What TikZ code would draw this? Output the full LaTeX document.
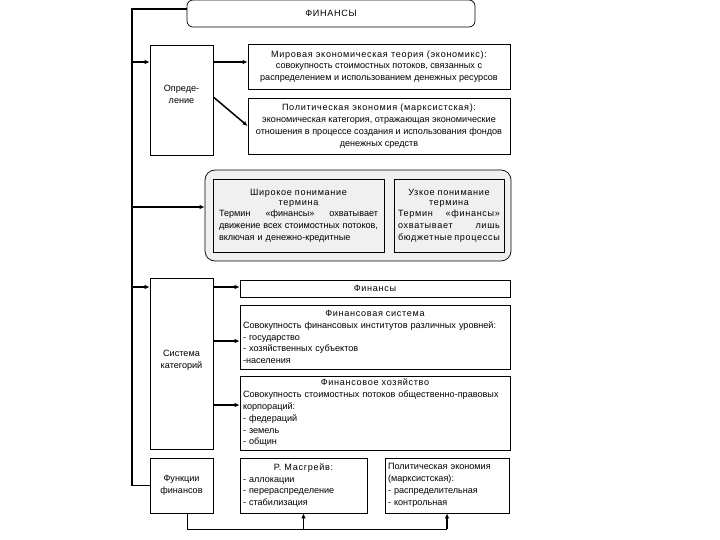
\documentclass[tikz,border=0pt]{standalone}
\usepackage{fontspec}
\setmainfont{Liberation Sans}
\newfontfamily\spfont[LetterSpace=7.5]{Liberation Sans}
\usetikzlibrary{arrows.meta}
\newcommand{\fsz}{\fontsize{9.1}{11.8}\selectfont}
\newcommand{\ttl}[1]{{\centering\spfont #1\par}}
\newcommand{\ttlt}[1]{{\centering\fontsize{9.1}{10.5}\selectfont\spfont #1\par}\vspace{-1pt}}
\newcommand{\jline}[2]{\leavevmode\hbox to #1{#2}\par}
\begin{document}
\begin{tikzpicture}[x=1pt,y=-1pt,
  box/.style={draw, line width=0.7pt, inner sep=0pt, font=\fsz, align=center},
  boxt/.style={draw, line width=0.7pt, inner ysep=0pt, inner xsep=3pt, font=\fsz, text width=#1},
  graybox/.style={fill=gray!12},
  arr/.style={line width=1.5pt, -{Latex[length=5pt,width=4.5pt]}},
  conn/.style={line width=1.5pt},
  thinline/.style={line width=0.7pt}]
\useasboundingbox (0,0) rectangle (720,540);

% top
\node[box, rounded corners=6pt, minimum width=288, minimum height=27, font=\fsz\spfont] (fin) at (331,13.5) {ФИНАНСЫ};

% definition block
\node[box, minimum width=63, minimum height=110] (def) at (181.5,100) {Опреде-\\ление\\[0pt]\mbox{}};
\node[box, minimum width=262, minimum height=45] (mir) at (379,66.5)
  {{\spfont Мировая экономическая теория (экономикс):}\\совокупность стоимостных потоков, связанных с\\распределением и использованием денежных ресурсов};
\node[box, minimum width=262, minimum height=56] (pol) at (379,126)
  {{\spfont Политическая экономия (марксистская):}\\экономическая категория, отражающая экономические\\отношения в процессе создания и использования фондов\\денежных средств};

% understanding block
\node[box, graybox, rounded corners=10pt, minimum width=306, minimum height=91] (und) at (358,215.5) {};
\node[boxt=159pt, graybox, inner xsep=6pt, minimum width=171, minimum height=73] (broad) at (298.5,215.5)
  {\ttlt{Широкое понимание\\термина}\raggedright
   \jline{159pt}{Термин\hfill«финансы»\hfill охватывает}%
   \jline{159pt}{движение\hfill всех\hfill стоимостных\hfill потоков,}%
   включая и денежно-кредитные};
\node[boxt=102pt, graybox, inner xsep=4pt, minimum width=110, minimum height=73] (narrow) at (449,215.5)
  {\ttlt{Узкое понимание\\термина}\raggedright\spfont
   \jline{102pt}{Термин\hfill«финансы»}%
   \jline{102pt}{охватывает\hfill лишь}%
   \jline{102pt}{бюджетные\hfill процессы}};

% categories block
\node[box, minimum width=63, minimum height=171] (sys) at (181.5,363.5) {Система\\категорий\\[-4pt]\mbox{}};
\node[box, minimum width=270, minimum height=17, font=\fsz\spfont] (fins) at (375,288.5) {Финансы};
\node[boxt=264pt, minimum width=270, minimum height=64] (fsys) at (375,337)
  {\ttl{Финансовая система}\raggedright Совокупность финансовых институтов различных уровней:\\- государство\\- хозяйственных субъектов\\-населения};
\node[boxt=264pt, minimum width=270, minimum height=74] (fhoz) at (375,413)
  {\ttl{Финансовое хозяйство}\raggedright Совокупность стоимостных потоков общественно-правовых корпораций:\\- федераций\\- земель\\- общин};

% functions block
\node[box, minimum width=63, minimum height=55] (func) at (181.5,485.5) {Функции\\финансов};
\node[boxt=121pt, minimum width=127, minimum height=55] (musg) at (303.5,485.5)
  {\ttl{Р. Масгрейв:}\raggedright - аллокации\\- перераспределение\\- стабилизация};
\node[boxt=118pt, minimum width=124, minimum height=55] (polf) at (447,485.5)
  {\raggedright Политическая экономия\\(марксистская):\\- распределительная\\- контрольная};

% spine
\coordinate (stop) at (132,9);
\coordinate (sbot) at (132,485.5);
\coordinate (s1) at (132,62);
\coordinate (s2) at (132,207);
\coordinate (s3) at (132,287);
\draw[conn] (fin.west |- stop) -- (stop) -- (sbot);
\draw[thinline] (sbot) -- (func.west);
\draw[arr] (s1) -- (s1 -| def.west);
\draw[arr] (s2) -- (s2 -| und.west);
\draw[arr] (s3) -- (s3 -| sys.west);

% definition arrows
\coordinate (d1) at (213,62);
\draw[arr] (d1) -- (d1 -| mir.west);
\draw[arr] ([yshift=3pt]def.east) -- (pol.west);

% category arrows
\coordinate (c1) at (213,287);
\coordinate (c2) at (213,341);
\coordinate (c3) at (213,405);
\draw[arr] (c1) -- (c1 -| fins.west);
\draw[arr] (c2) -- (c2 -| fsys.west);
\draw[arr] (c3) -- (c3 -| fhoz.west);

% functions
\coordinate (f0) at (187,529);
\coordinate (f1) at (303.5,529);
\coordinate (f2) at (447,529);
\draw[thinline] (func.south -| f0) -- (f0) -- (f2);
\draw[arr] (f1) -- (musg.south);
\draw[arr] (f2) -- (polf.south);
\end{tikzpicture}
\end{document}
